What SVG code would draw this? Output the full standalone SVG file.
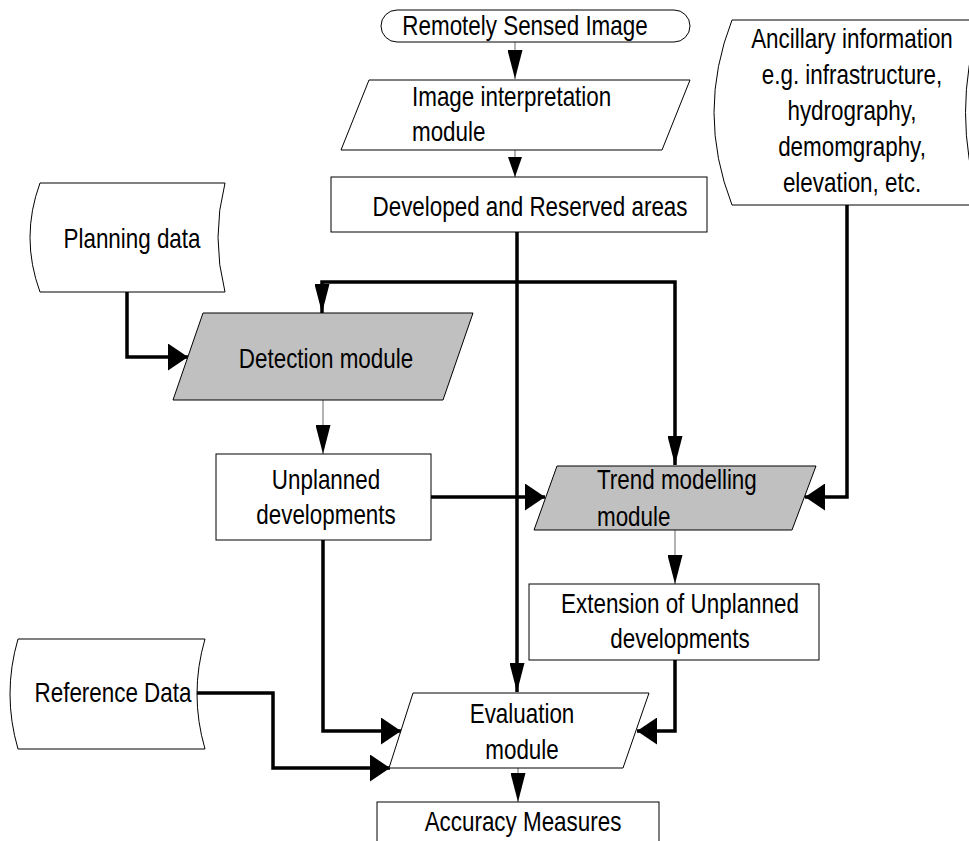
<svg xmlns="http://www.w3.org/2000/svg" width="969" height="841" viewBox="0 0 969 841">
<style>
text{font-family:"Liberation Sans",Arial,sans-serif;font-size:27px;fill:#000}
.c{text-anchor:middle}
.box{fill:#fff;stroke:#000;stroke-width:1}
.gray{fill:#c0c0c0;stroke:#000;stroke-width:1}
.thin{fill:none;stroke:#808080;stroke-width:1.2}
.thick{fill:none;stroke:#000;stroke-width:3.5}
</style>
<defs>
<marker id="v" markerUnits="userSpaceOnUse" markerWidth="30" markerHeight="15" refX="29" refY="7.5" orient="auto" viewBox="0 0 30 15"><path d="M0,0 L29,7.5 L0,15 Z" fill="#000"/></marker>
<marker id="vs" markerUnits="userSpaceOnUse" markerWidth="21" markerHeight="14" refX="20" refY="7" orient="auto" viewBox="0 0 21 14"><path d="M0,0 L20,7 L0,14 Z" fill="#000"/></marker>
<marker id="h" markerUnits="userSpaceOnUse" markerWidth="21" markerHeight="27" refX="20" refY="13.5" orient="auto" viewBox="0 0 21 27"><path d="M0,0 L20,13.5 L0,27 Z" fill="#000"/></marker>
</defs>

<g id="connectors">
<path class="thin" d="M515,42 V79" marker-end="url(#v)"/>
<path class="thin" d="M515,150 V177" marker-end="url(#vs)"/>
<path class="thick" d="M517,232 V692" marker-end="url(#v)"/>
<path class="thick" d="M517,282 H322 V313" marker-end="url(#v)"/>
<path class="thick" d="M517,282 H675 V465" marker-end="url(#v)"/>
<path class="thick" d="M127,292 V357 H188" marker-end="url(#h)"/>
<path class="thin" d="M323,400 V454" marker-end="url(#v)"/>
<path class="thick" d="M431,497 H545" marker-end="url(#h)"/>
<path class="thick" d="M847,205 V497 H805" marker-end="url(#h)"/>
<path class="thin" d="M675,530 V584" marker-end="url(#v)"/>
<path class="thick" d="M675,660 V731 H637" marker-end="url(#h)"/>
<path class="thick" d="M323,540 V731 H401" marker-end="url(#h)"/>
<path class="thick" d="M197,693 H273 V768 H390" marker-end="url(#h)"/>
<path class="thin" d="M518,768 V802" marker-end="url(#v)"/>
</g>

<g id="remotely-sensed-image">
<rect class="box" x="381" y="10" width="309" height="32" rx="16"/>
<text class="c" transform="translate(525 35) scale(0.83 1)">Remotely Sensed Image</text>
</g>

<g id="image-interpretation">
<polygon class="box" points="369,80 690,80 662,150 341,150"/>
<text transform="translate(412 106) scale(0.83 1)">Image interpretation</text>
<text transform="translate(412 141) scale(0.83 1)">module</text>
</g>

<g id="developed-reserved">
<rect class="box" x="331" y="177" width="376" height="55"/>
<text class="c" transform="translate(530 216) scale(0.83 1)">Developed and Reserved areas</text>
</g>

<g id="ancillary">
<path class="box" d="M732,20 L980,20 Q951,112.5 980,205 L732,205 Q696,112.5 732,20 Z"/>
<text class="c" transform="translate(852 48) scale(0.83 1)">Ancillary information</text>
<text class="c" transform="translate(852 84) scale(0.83 1)">e.g. infrastructure,</text>
<text class="c" transform="translate(852 120) scale(0.83 1)">hydrography,</text>
<text class="c" transform="translate(852 156) scale(0.83 1)">demomgraphy,</text>
<text class="c" transform="translate(852 192) scale(0.83 1)">elevation, etc.</text>
</g>

<g id="planning-data">
<path class="box" d="M40,183 L225,183 Q211,237.5 225,292 L40,292 Q20,237.5 40,183 Z"/>
<text class="c" transform="translate(132 248) scale(0.83 1)">Planning data</text>
</g>

<g id="detection-module">
<polygon class="gray" points="203,313 473,313 443,400 173,400"/>
<text class="c" transform="translate(326 368) scale(0.83 1)">Detection module</text>
</g>

<g id="unplanned-developments">
<rect class="box" x="216" y="454" width="215" height="86"/>
<text class="c" transform="translate(326 489) scale(0.83 1)">Unplanned</text>
<text class="c" transform="translate(326 524) scale(0.83 1)">developments</text>
</g>

<g id="trend-modelling">
<polygon class="gray" points="557,466 816,466 792,530 534,530"/>
<text transform="translate(597 489) scale(0.83 1)">Trend modelling</text>
<text transform="translate(597 526) scale(0.83 1)">module</text>
</g>

<g id="extension-unplanned">
<rect class="box" x="529" y="584" width="290" height="76"/>
<text class="c" transform="translate(680 613) scale(0.83 1)">Extension of Unplanned</text>
<text class="c" transform="translate(680 648) scale(0.83 1)">developments</text>
</g>

<g id="reference-data">
<path class="box" d="M18,639 L205,639 Q189,694 205,749 L18,749 Q2,694 18,639 Z"/>
<text class="c" transform="translate(113 702) scale(0.83 1)">Reference Data</text>
</g>

<g id="evaluation-module">
<polygon class="box" points="413,693 649,693 623,768 389,768"/>
<text class="c" transform="translate(522 723) scale(0.83 1)">Evaluation</text>
<text class="c" transform="translate(522 759) scale(0.83 1)">module</text>
</g>

<g id="accuracy-measures">
<rect class="box" x="377" y="802" width="282" height="60"/>
<text class="c" transform="translate(523 831) scale(0.83 1)">Accuracy Measures</text>
</g>
</svg>
